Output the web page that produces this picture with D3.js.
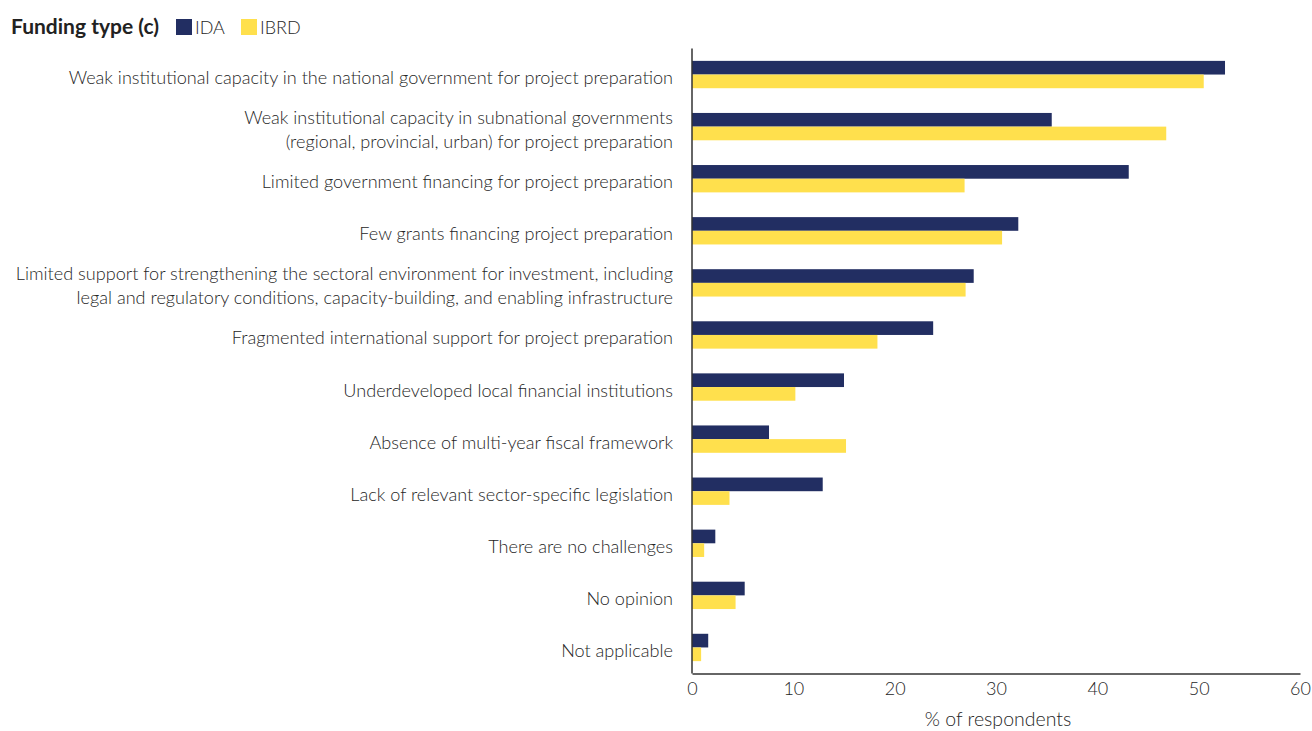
<!DOCTYPE html>
<html>
<head>
<meta charset="utf-8">
<script src="https://cdn.jsdelivr.net/npm/d3@7"></script>
<style>
  html, body { margin: 0; padding: 0; background: #fff; }
  svg { display: block; }
  text { font-family: Lato, "Open Sans", sans-serif; }
</style>
</head>
<body>
<svg id="chart" width="1312" height="731"></svg>
<script>
const categories = [
  ["Weak institutional capacity in the national government for project preparation"],
  ["Weak institutional capacity in subnational governments", "(regional, provincial, urban) for project preparation"],
  ["Limited government financing for project preparation"],
  ["Few grants financing project preparation"],
  ["Limited support for strengthening the sectoral environment for investment, including", "legal and regulatory conditions, capacity-building, and enabling infrastructure"],
  ["Fragmented international support for project preparation"],
  ["Underdeveloped local financial institutions"],
  ["Absence of multi-year fiscal framework"],
  ["Lack of relevant sector-specific legislation"],
  ["There are no challenges"],
  ["No opinion"],
  ["Not applicable"]
];
const seriesNames = ["IDA", "IBRD"];
const idaValues  = [52.6, 35.5, 43.1, 32.2, 27.8, 23.8, 15.0, 7.6, 12.9, 2.3, 5.2, 1.6];
const ibrdValues = [50.5, 46.8, 26.9, 30.6, 27.0, 18.3, 10.2, 15.2, 3.7, 1.2, 4.3, 0.9];
const xTicks = [0, 10, 20, 30, 40, 50, 60];
const colors = ["#222e62", "#ffe04d"];

const svg = d3.select("#chart");
const mLeft = 692, mRight = 1300, mTop = 48.5, mBottom = 673.5;

const x = d3.scaleLinear().domain([0, 60]).range([mLeft, mRight]);
const y = d3.scaleBand().domain(d3.range(categories.length)).range([mTop, mBottom])
  .paddingInner(0.475).paddingOuter(0.2375);
const ySub = d3.scaleBand().domain([0, 1]).range([0, y.bandwidth()]);

const data = categories.map((c, i) => ({ i, vals: [idaValues[i], ibrdValues[i]] }));

const groups = svg.append("g").selectAll("g").data(data).join("g")
  .attr("transform", d => `translate(0,${y(d.i)})`);
groups.selectAll("rect").data(d => d.vals.map((v, k) => ({ v, k }))).join("rect")
  .attr("x", x(0))
  .attr("y", d => ySub(d.k))
  .attr("width", d => x(d.v) - x(0))
  .attr("height", ySub.bandwidth())
  .attr("fill", d => colors[d.k]);

// Category labels
const labels = svg.append("g").selectAll("text").data(categories).join("text")
  .attr("text-anchor", "end")
  .attr("font-size", 18.1)
  .attr("font-weight", 300)
  .attr("fill", "#262626")
  .attr("x", 673)
  .attr("y", (d, i) => y(i) + y.bandwidth() / 2 + 2.5);
labels.each(function(lines) {
  const t = d3.select(this);
  const lh = 24;
  const offset = -(lines.length - 1) * lh / 2;
  lines.forEach((ln, j) => {
    t.append("tspan").attr("x", 673).attr("dy", j === 0 ? offset : lh)
      .attr("dominant-baseline", "central").text(ln);
  });
});

// X axis
const xAxis = d3.axisBottom(x).tickValues(xTicks).tickSize(0).tickPadding(9);
const gx = svg.append("g").attr("transform", `translate(0,${mBottom})`).call(xAxis);
gx.select(".domain").attr("stroke", "#333").attr("stroke-width", 1.5);
gx.selectAll("text").attr("font-size", 18).attr("font-weight", 300).attr("fill", "#262626")
  .attr("font-family", "Lato, 'Open Sans', sans-serif");

// Y axis line
svg.append("line").attr("x1", mLeft).attr("x2", mLeft).attr("y1", mTop).attr("y2", mBottom)
  .attr("stroke", "#333").attr("stroke-width", 1.5);

// X axis title
svg.append("text").attr("x", 998).attr("y", 726)
  .attr("text-anchor", "middle").attr("font-size", 19.5).attr("font-weight", 300).attr("fill", "#262626")
  .text("% of respondents");

// Legend
const lg = svg.append("g");
lg.append("text").attr("x", 11).attr("y", 34).attr("font-size", 21)
  .attr("font-weight", "bold").attr("fill", "#222").text("Funding type (c)");
const legendX = [176, 241];
seriesNames.forEach((s, k) => {
  lg.append("rect").attr("x", legendX[k]).attr("y", 19).attr("width", 16).attr("height", 16)
    .attr("fill", colors[k]);
  lg.append("text").attr("x", legendX[k] + 19).attr("y", 34).attr("font-size", 18)
    .attr("font-weight", 300).attr("fill", "#262626").text(s);
});
</script>
</body>
</html>
